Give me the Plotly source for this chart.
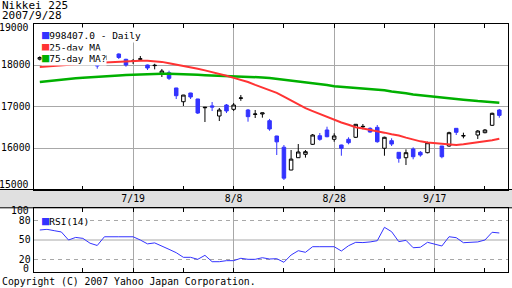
import numpy as np
import plotly.graph_objects as go

# ---------------- data ----------------
dates = [
    "2007-07-02", "2007-07-03", "2007-07-04", "2007-07-05", "2007-07-06",
    "2007-07-09", "2007-07-10", "2007-07-11", "2007-07-12", "2007-07-13",
    "2007-07-17", "2007-07-18", "2007-07-19", "2007-07-20",
    "2007-07-23", "2007-07-24", "2007-07-25", "2007-07-26", "2007-07-27",
    "2007-07-30", "2007-07-31", "2007-08-01", "2007-08-02", "2007-08-03",
    "2007-08-06", "2007-08-07", "2007-08-08", "2007-08-09", "2007-08-10",
    "2007-08-13", "2007-08-14", "2007-08-15", "2007-08-16", "2007-08-17",
    "2007-08-20", "2007-08-21", "2007-08-22", "2007-08-23", "2007-08-24",
    "2007-08-27", "2007-08-28", "2007-08-29", "2007-08-30", "2007-08-31",
    "2007-09-03", "2007-09-04", "2007-09-05", "2007-09-06", "2007-09-07",
    "2007-09-10", "2007-09-11", "2007-09-12", "2007-09-13", "2007-09-14",
    "2007-09-18", "2007-09-19", "2007-09-20", "2007-09-21",
    "2007-09-25", "2007-09-26", "2007-09-27", "2007-09-28",
]
open_ = [18140, 18170, 18210, 18130, 18170, 18200, 18240, 18096, 18072, 18120,
         18265, 18137, 18090, 18140, 18000, 17985, 17783, 17814, 17446, 17115,
         17325, 17181, 16970, 17015, 16771, 17036, 16932, 17198, 16916, 16810,
         16820, 16658, 16289, 16019, 15470, 15766, 15848, 16089, 16296, 16434,
         16210, 16072, 16210, 16258, 16510, 16474, 16498, 15993, 16176, 15896,
         15766, 15976, 15896, 15887, 16048, 16048, 16474, 16290, 16313, 16369,
         16547, 16916]
high = [18210, 18230, 18240, 18200, 18220, 18270, 18260, 18120, 18100, 18250,
        18280, 18150, 18145, 18217, 18010, 18030, 17904, 17862, 17450, 17280,
        17330, 17185, 16990, 17108, 16964, 17060, 17084, 17277, 16940, 16916,
        16848, 16700, 16295, 16072, 15951, 16096, 15951, 16337, 16361, 16513,
        16354, 16080, 16258, 16578, 16578, 16498, 16554, 16272, 16234, 15900,
        15968, 16016, 15927, 16152, 16050, 16393, 16480, 16369, 16433, 16457,
        16851, 16940]
low = [18110, 18130, 18120, 18110, 18130, 18180, 18130, 18010, 17911, 18100,
       18144, 17959, 18024, 18096, 17880, 17895, 17711, 17638, 17180, 17012,
       17181, 16819, 16626, 16891, 16650, 16843, 16891, 17136, 16634, 16723,
       16731, 16416, 15831, 15229, 15465, 15759, 15768, 16072, 16176, 16258,
       16151, 15814, 16089, 16240, 16450, 16369, 16127, 15814, 16048, 15646,
       15590, 15728, 15790, 15872, 15752, 16031, 16313, 16233, 16217, 16354,
       16530, 16730]
close = [18180, 18200, 18140, 18180, 18160, 18250, 18150, 18024, 17976, 18230,
         18181, 18000, 18096, 18148, 17928, 17992, 17855, 17679, 17260, 17276,
         17229, 16843, 16980, 16985, 16916, 16892, 17036, 17205, 16755, 16818,
         16845, 16458, 16148, 15274, 15732, 15904, 15911, 16313, 16209, 16272,
         16290, 15992, 16128, 16571, 16520, 16385, 16151, 16258, 16096, 15751,
         15887, 15790, 15831, 16128, 15790, 16369, 16378, 16297, 16409, 16433,
         16836, 16786]
ma25 = [17950, 17965, 17985, 18000, 18010, 18020, 18030, 18040, 18050, 18062,
        18075, 18085, 18095, 18100, 18100, 18095, 18075, 18040, 18010, 17985,
        17955, 17910, 17870, 17830, 17780, 17740, 17690, 17645, 17590, 17520,
        17460, 17395, 17330, 17240, 17150, 17040, 16960, 16890, 16820, 16750,
        16690, 16615, 16560, 16500, 16470, 16440, 16410, 16370, 16330, 16300,
        16250, 16200, 16160, 16130, 16100, 16080, 16075, 16090, 16130, 16150,
        16185, 16224]
ma75 = [17590, 17610, 17630, 17650, 17665, 17678, 17690, 17705, 17720, 17735,
        17750, 17760, 17768, 17775, 17785, 17790, 17790, 17790, 17788, 17782,
        17775, 17765, 17755, 17750, 17745, 17738, 17735, 17730, 17725, 17712,
        17700, 17685, 17665, 17650, 17630, 17595, 17580, 17565, 17550, 17520,
        17490, 17475, 17460, 17448, 17440, 17428, 17408, 17390, 17360, 17345,
        17320, 17290, 17270, 17250, 17215, 17200, 17180, 17165, 17130, 17115,
        17100, 17090]
rsi14 = [65.5, 66.6, 64.5, 62.5, 50, 54, 52.5, 45, 41.5, 55,
         55, 55, 55, 50, 44, 45.5, 41, 35.5, 30.3, 23.1,
         23.1, 20, 26.2, 16.3, 16.3, 17.9, 17.9, 21.6, 20, 20,
         22.5, 20.5, 21, 15.4, 26.7, 33.4, 30.9, 39.6, 39.6, 39.6,
         39.6, 32.9, 41.1, 46.4, 46, 47, 48.9, 69.7, 62.9, 47.4,
         49.5, 38, 38.7, 46.4, 40.7, 55.1, 53.6, 45.8, 47, 50,
         62, 60.9]
major_dates = ["2007-07-19", "2007-08-08", "2007-08-28", "2007-09-17"]
major_labels = ["7/19", "8/8", "8/28", "9/17"]
price_ticks = [16000, 17000, 18000]
price_labels = ["16000", "17000", "18000"]
rsi_ticks = [20, 50, 80]
rsi_labels = ["20", "50", "80"]

# ---------------- styling / layout ----------------
W, H = 512, 288
BLUE = "#3333ff"
RED = "#ff3333"
GREEN = "#00b000"
GRID = "#a8a8a8"
BAND = "#e0e0e0"
FONT = "DejaVu Sans Mono"

x0px, x1px = 33.5, 507.5
main_top, main_bot = 23.5, 189.5
rsi_top, rsi_bot = 207.8, 272.2
w0px, pxday = 39.8, 7.18


def fy(px):
    return 1 - px / H


start = np.datetime64(dates[0])
xw = np.busday_count(start, np.array(dates, dtype="datetime64[D]"))
major_w = list(np.busday_count(start, np.array(major_dates, dtype="datetime64[D]")))
all_ticks = list(np.arange(major_w[0] - 7, xw[-1] + 1, 7))
all_text = [major_labels[major_w.index(t)] if t in major_w else "" for t in all_ticks]
xrange_ = [(x0px - w0px) / pxday, (x1px - w0px) / pxday]

fig = go.Figure()
fig.add_trace(go.Scatter(x=xw, y=ma75, mode="lines", line=dict(color=GREEN, width=2.5),
                         xaxis="x", yaxis="y", hoverinfo="skip"))
fig.add_trace(go.Scatter(x=xw, y=ma25, mode="lines", line=dict(color=RED, width=2),
                         xaxis="x", yaxis="y", hoverinfo="skip"))
fig.add_trace(go.Candlestick(
    x=xw, open=open_, high=high, low=low, close=close,
    increasing=dict(line=dict(color="black", width=1), fillcolor="white"),
    decreasing=dict(line=dict(color=BLUE, width=1), fillcolor=BLUE),
    whiskerwidth=0, xaxis="x", yaxis="y", hoverinfo="skip"))
fig.add_trace(go.Scatter(x=xw, y=rsi14, mode="lines", line=dict(color=BLUE, width=1),
                         xaxis="x2", yaxis="y2", hoverinfo="skip"))

tfont = dict(family=FONT, size=9.8, color="black")
lfont = dict(family=FONT, size=9.5, color="black")
xcommon = dict(domain=[x0px / W, x1px / W], range=xrange_, tickvals=all_ticks,
               ticks="inside", ticklen=4, tickcolor="black", showline=True,
               linecolor="black", linewidth=1, mirror="ticks", showgrid=False,
               zeroline=False, tickfont=tfont,
               minor=dict(tickvals=major_w, showgrid=True, gridcolor=GRID,
                          gridwidth=1, ticks=""))
fig.update_layout(
    width=W, height=H, margin=dict(l=0, r=0, t=0, b=0),
    paper_bgcolor="white", plot_bgcolor="white", showlegend=False,
    font=tfont,
    xaxis=dict(**xcommon, anchor="y", ticktext=all_text, ticklabelstandoff=0,
               rangeslider=dict(visible=False)),
    xaxis2=dict(**xcommon, anchor="y2", showticklabels=False),
    yaxis=dict(domain=[fy(main_bot), fy(main_top)], range=[15000, 19000],
               tickvals=price_ticks, ticktext=price_labels, showgrid=True,
               gridcolor=GRID, gridwidth=1, ticks="", showline=True, mirror=True,
               linecolor="black", linewidth=1, zeroline=False, tickfont=tfont,
               anchor="x"),
    yaxis2=dict(domain=[fy(rsi_bot), fy(rsi_top)], range=[0, 100],
                tickvals=rsi_ticks, ticktext=rsi_labels, showgrid=False, ticks="",
                showline=True, mirror=True, linecolor="black", linewidth=1,
                zeroline=False, tickfont=tfont, anchor="x2",
                minor=dict(tickvals=[20, 80], showgrid=True, gridcolor=GRID,
                           griddash="4px,4px", gridwidth=1, ticks="")),
)

# date band between the panels
fig.add_shape(type="rect", xref="paper", yref="paper", x0=-0.02, x1=1.02,
              y0=fy(rsi_top), y1=fy(main_bot), fillcolor=BAND,
              line=dict(color="black", width=1), layer="below")
# RSI 50 line
fig.add_shape(type="line", xref="x2 domain", yref="y2", x0=0, x1=1, y0=50, y1=50,
              line=dict(color=GRID, width=1), layer="below")

ann = []
# end labels of the axes (shifted inwards as in the original)
for txt, ypx in [("19000", 27.0), ("15000", 184.5), ("100", 210.7), ("0", 268.3)]:
    ann.append(dict(text=txt, xref="paper", yref="paper", x=30.5 / W, y=fy(ypx),
                    xanchor="right", yanchor="middle", showarrow=False, font=tfont))
# header
hfont = dict(family=FONT, size=11, color="black")
ann.append(dict(text="Nikkei 225", xref="paper", yref="paper", x=0, y=fy(5.2),
                xanchor="left", yanchor="middle", showarrow=False, font=hfont))
ann.append(dict(text="2007/9/28", xref="paper", yref="paper", x=0, y=fy(15.0),
                xanchor="left", yanchor="middle", showarrow=False, font=hfont))
# legend rows (coloured square + label on a white background)
for label, col, ypx in [("998407.0 - Daily", BLUE, 35.4), ("25-day MA", RED, 46.8),
                        ("75-day MA?", GREEN, 58.2), ("RSI(14)", BLUE, 220.6)]:
    ann.append(dict(text=f"<span style='color:{col};font-size:12px'>\u25a0</span>" + label,
                    xref="paper", yref="paper", x=40.5 / W, y=fy(ypx),
                    xanchor="left", yanchor="middle", showarrow=False, font=lfont,
                    bgcolor="white", borderpad=0))
ann.append(dict(text="Copyright (C) 2007 Yahoo Japan Corporation.", xref="paper",
                yref="paper", x=0, y=fy(281.2), xanchor="left", yanchor="middle",
                showarrow=False, font=tfont))
fig.update_layout(annotations=ann)

fig.write_html("out.html")
